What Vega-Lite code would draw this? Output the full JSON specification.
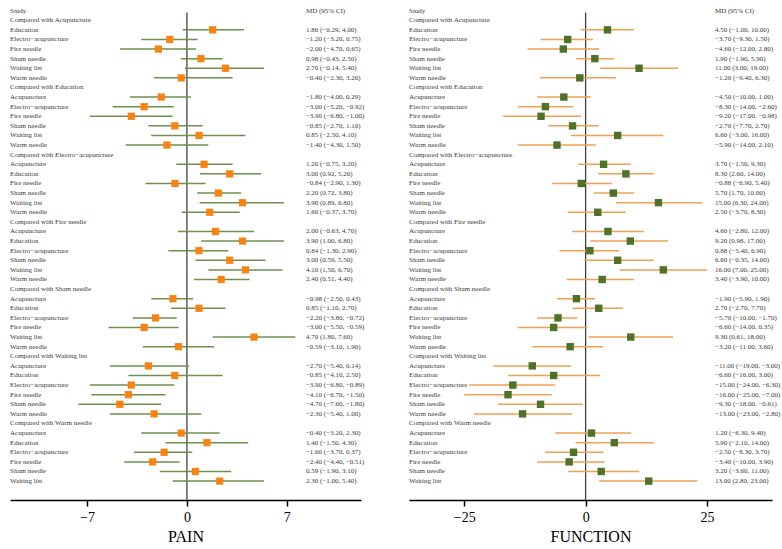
{
  "$schema": "https://vega.github.io/schema/vega-lite/v6.json",
  "padding": {"left": 10, "top": 5, "right": 0, "bottom": 0},
  "spacing": 48,
  "bounds": "flush",
  "config": {
    "view": {"stroke": null},
    "font": "Liberation Serif",
    "axis": {"grid": false, "domainColor": "#000", "domainWidth": 1.5, "tickColor": "#000", "tickWidth": 1.5, "tickSize": 6, "labelFont": "Liberation Serif", "labelFontSize": 14, "labelColor": "#000", "labelPadding": 4, "titleFont": "Liberation Serif", "titleFontSize": 16, "titleFontWeight": "normal", "titleColor": "#000", "titlePadding": 4}
  },
  "datasets": {
    "pain": [
      {"row": 0, "label": "Study", "ci": "MD (95% CI)", "md": null, "lo": null, "hi": null},
      {"row": 1, "label": "Compared with Acupuncture", "ci": "", "md": null, "lo": null, "hi": null},
      {"row": 2, "label": "Education", "ci": "1.80 (−0.29, 4.00)", "md": 1.8, "lo": -0.29, "hi": 4.0},
      {"row": 3, "label": "Electro−acupuncture", "ci": "−1.20 (−3.20, 0.75)", "md": -1.2, "lo": -3.2, "hi": 0.75},
      {"row": 4, "label": "Fire needle", "ci": "−2.00 (−4.70, 0.65)", "md": -2.0, "lo": -4.7, "hi": 0.65},
      {"row": 5, "label": "Sham needle", "ci": "0.98 (−0.43, 2.50)", "md": 0.98, "lo": -0.43, "hi": 2.5},
      {"row": 6, "label": "Waiting list", "ci": "2.70 (−0.14, 5.40)", "md": 2.7, "lo": -0.14, "hi": 5.4},
      {"row": 7, "label": "Warm needle", "ci": "−0.40 (−2.30, 3.20)", "md": -0.4, "lo": -2.3, "hi": 3.2},
      {"row": 8, "label": "Compared with Education", "ci": "", "md": null, "lo": null, "hi": null},
      {"row": 9, "label": "Acupuncture", "ci": "−1.80 (−4.00, 0.29)", "md": -1.8, "lo": -4.0, "hi": 0.29},
      {"row": 10, "label": "Electro−acupuncture", "ci": "−3.00 (−5.20, −0.92)", "md": -3.0, "lo": -5.2, "hi": -0.92},
      {"row": 11, "label": "Fire needle", "ci": "−3.90 (−6.80, −1.00)", "md": -3.9, "lo": -6.8, "hi": -1.0},
      {"row": 12, "label": "Sham needle", "ci": "−0.85 (−2.70, 1.10)", "md": -0.85, "lo": -2.7, "hi": 1.1},
      {"row": 13, "label": "Waiting list", "ci": "0.85 (−2.50, 4.10)", "md": 0.85, "lo": -2.5, "hi": 4.1},
      {"row": 14, "label": "Warm needle", "ci": "−1.40 (−4.30, 1.50)", "md": -1.4, "lo": -4.3, "hi": 1.5},
      {"row": 15, "label": "Compared with Electro−acupuncture", "ci": "", "md": null, "lo": null, "hi": null},
      {"row": 16, "label": "Acupuncture", "ci": "1.20 (−0.75, 3.20)", "md": 1.2, "lo": -0.75, "hi": 3.2},
      {"row": 17, "label": "Education", "ci": "3.00 (0.92, 5.20)", "md": 3.0, "lo": 0.92, "hi": 5.2},
      {"row": 18, "label": "Fire needle", "ci": "−0.84 (−2.90, 1.30)", "md": -0.84, "lo": -2.9, "hi": 1.3},
      {"row": 19, "label": "Sham needle", "ci": "2.20 (0.72, 3.80)", "md": 2.2, "lo": 0.72, "hi": 3.8},
      {"row": 20, "label": "Waiting list", "ci": "3.90 (0.89, 6.80)", "md": 3.9, "lo": 0.89, "hi": 6.8},
      {"row": 21, "label": "Warm needle", "ci": "1.60 (−0.37, 3.70)", "md": 1.6, "lo": -0.37, "hi": 3.7},
      {"row": 22, "label": "Compared with Fire needle", "ci": "", "md": null, "lo": null, "hi": null},
      {"row": 23, "label": "Acupuncture", "ci": "2.00 (−0.63, 4.70)", "md": 2.0, "lo": -0.63, "hi": 4.7},
      {"row": 24, "label": "Education", "ci": "3.90 (1.00, 6.80)", "md": 3.9, "lo": 1.0, "hi": 6.8},
      {"row": 25, "label": "Electro−acupuncture", "ci": "0.84 (−1.30, 2.90)", "md": 0.84, "lo": -1.3, "hi": 2.9},
      {"row": 26, "label": "Sham needle", "ci": "3.00 (0.59, 5.50)", "md": 3.0, "lo": 0.59, "hi": 5.5},
      {"row": 27, "label": "Waiting list", "ci": "4.10 (1.50, 6.70)", "md": 4.1, "lo": 1.5, "hi": 6.7},
      {"row": 28, "label": "Warm needle", "ci": "2.40 (0.51, 4.40)", "md": 2.4, "lo": 0.51, "hi": 4.4},
      {"row": 29, "label": "Compared with Sham needle", "ci": "", "md": null, "lo": null, "hi": null},
      {"row": 30, "label": "Acupuncture", "ci": "−0.98 (−2.50, 0.43)", "md": -0.98, "lo": -2.5, "hi": 0.43},
      {"row": 31, "label": "Education", "ci": "0.85 (−1.10, 2.70)", "md": 0.85, "lo": -1.1, "hi": 2.7},
      {"row": 32, "label": "Electro−acupuncture", "ci": "−2.20 (−3.80, −0.72)", "md": -2.2, "lo": -3.8, "hi": -0.72},
      {"row": 33, "label": "Fire needle", "ci": "−3.00 (−5.50, −0.59)", "md": -3.0, "lo": -5.5, "hi": -0.59},
      {"row": 34, "label": "Waiting list", "ci": "4.70 (1.80, 7.60)", "md": 4.7, "lo": 1.8, "hi": 7.6},
      {"row": 35, "label": "Warm needle", "ci": "−0.59 (−3.10, 1.90)", "md": -0.59, "lo": -3.1, "hi": 1.9},
      {"row": 36, "label": "Compared with Waiting list", "ci": "", "md": null, "lo": null, "hi": null},
      {"row": 37, "label": "Acupuncture", "ci": "−2.70 (−5.40, 0.14)", "md": -2.7, "lo": -5.4, "hi": 0.14},
      {"row": 38, "label": "Education", "ci": "−0.85 (−4.10, 2.50)", "md": -0.85, "lo": -4.1, "hi": 2.5},
      {"row": 39, "label": "Electro−acupuncture", "ci": "−3.90 (−6.80, −0.89)", "md": -3.9, "lo": -6.8, "hi": -0.89},
      {"row": 40, "label": "Fire needle", "ci": "−4.10 (−6.70, −1.50)", "md": -4.1, "lo": -6.7, "hi": -1.5},
      {"row": 41, "label": "Sham needle", "ci": "−4.70 (−7.60, −1.80)", "md": -4.7, "lo": -7.6, "hi": -1.8},
      {"row": 42, "label": "Warm needle", "ci": "−2.30 (−5.40, 1.00)", "md": -2.3, "lo": -5.4, "hi": 1.0},
      {"row": 43, "label": "Compared with Warm needle", "ci": "", "md": null, "lo": null, "hi": null},
      {"row": 44, "label": "Acupuncture", "ci": "−0.40 (−3.20, 2.30)", "md": -0.4, "lo": -3.2, "hi": 2.3},
      {"row": 45, "label": "Education", "ci": "1.40 (−1.50, 4.30)", "md": 1.4, "lo": -1.5, "hi": 4.3},
      {"row": 46, "label": "Electro−acupuncture", "ci": "−1.60 (−3.70, 0.37)", "md": -1.6, "lo": -3.7, "hi": 0.37},
      {"row": 47, "label": "Fire needle", "ci": "−2.40 (−4.40, −0.51)", "md": -2.4, "lo": -4.4, "hi": -0.51},
      {"row": 48, "label": "Sham needle", "ci": "0.59 (−1.90, 3.10)", "md": 0.59, "lo": -1.9, "hi": 3.1},
      {"row": 49, "label": "Waiting list", "ci": "2.30 (−1.00, 5.40)", "md": 2.3, "lo": -1.0, "hi": 5.4}
    ],
    "func": [
      {"row": 0, "label": "Study", "ci": "MD (95% CI)", "md": null, "lo": null, "hi": null},
      {"row": 1, "label": "Compared with Acupuncture", "ci": "", "md": null, "lo": null, "hi": null},
      {"row": 2, "label": "Education", "ci": "4.50 (−1.00, 10.00)", "md": 4.5, "lo": -1.0, "hi": 10.0},
      {"row": 3, "label": "Electro−acupuncture", "ci": "−3.70 (−9.30, 1.50)", "md": -3.7, "lo": -9.3, "hi": 1.5},
      {"row": 4, "label": "Fire needle", "ci": "−4.60 (−12.00, 2.80)", "md": -4.6, "lo": -12.0, "hi": 2.8},
      {"row": 5, "label": "Sham needle", "ci": "1.90 (−1.90, 5.90)", "md": 1.9, "lo": -1.9, "hi": 5.9},
      {"row": 6, "label": "Waiting list", "ci": "11.00 (3.00, 19.00)", "md": 11.0, "lo": 3.0, "hi": 19.0},
      {"row": 7, "label": "Warm needle", "ci": "−1.20 (−9.40, 6.30)", "md": -1.2, "lo": -9.4, "hi": 6.3},
      {"row": 8, "label": "Compared with Education", "ci": "", "md": null, "lo": null, "hi": null},
      {"row": 9, "label": "Acupuncture", "ci": "−4.50 (−10.00, 1.00)", "md": -4.5, "lo": -10.0, "hi": 1.0},
      {"row": 10, "label": "Electro−acupuncture", "ci": "−8.30 (−14.00, −2.60)", "md": -8.3, "lo": -14.0, "hi": -2.6},
      {"row": 11, "label": "Fire needle", "ci": "−9.20 (−17.00, −0.98)", "md": -9.2, "lo": -17.0, "hi": -0.98},
      {"row": 12, "label": "Sham needle", "ci": "−2.70 (−7.70, 2.70)", "md": -2.7, "lo": -7.7, "hi": 2.7},
      {"row": 13, "label": "Waiting list", "ci": "6.60 (−3.00, 16.00)", "md": 6.6, "lo": -3.0, "hi": 16.0},
      {"row": 14, "label": "Warm needle", "ci": "−5.90 (−14.00, 2.10)", "md": -5.9, "lo": -14.0, "hi": 2.1},
      {"row": 15, "label": "Compared with Electro−acupuncture", "ci": "", "md": null, "lo": null, "hi": null},
      {"row": 16, "label": "Acupuncture", "ci": "3.70 (−1.50, 9.30)", "md": 3.7, "lo": -1.5, "hi": 9.3},
      {"row": 17, "label": "Education", "ci": "8.30 (2.60, 14.00)", "md": 8.3, "lo": 2.6, "hi": 14.0},
      {"row": 18, "label": "Fire needle", "ci": "−0.88 (−6.90, 5.40)", "md": -0.88, "lo": -6.9, "hi": 5.4},
      {"row": 19, "label": "Sham needle", "ci": "5.70 (1.70, 10.00)", "md": 5.7, "lo": 1.7, "hi": 10.0},
      {"row": 20, "label": "Waiting list", "ci": "15.00 (6.30, 24.00)", "md": 15.0, "lo": 6.3, "hi": 24.0},
      {"row": 21, "label": "Warm needle", "ci": "2.50 (−3.70, 8.30)", "md": 2.5, "lo": -3.7, "hi": 8.3},
      {"row": 22, "label": "Compared with Fire needle", "ci": "", "md": null, "lo": null, "hi": null},
      {"row": 23, "label": "Acupuncture", "ci": "4.60 (−2.80, 12.00)", "md": 4.6, "lo": -2.8, "hi": 12.0},
      {"row": 24, "label": "Education", "ci": "9.20 (0.98, 17.00)", "md": 9.2, "lo": 0.98, "hi": 17.0},
      {"row": 25, "label": "Electro−acupuncture", "ci": "0.88 (−5.40, 6.90)", "md": 0.88, "lo": -5.4, "hi": 6.9},
      {"row": 26, "label": "Sham needle", "ci": "6.60 (−0.35, 14.00)", "md": 6.6, "lo": -0.35, "hi": 14.0},
      {"row": 27, "label": "Waiting list", "ci": "16.00 (7.00, 25.00)", "md": 16.0, "lo": 7.0, "hi": 25.0},
      {"row": 28, "label": "Warm needle", "ci": "3.40 (−3.90, 10.00)", "md": 3.4, "lo": -3.9, "hi": 10.0},
      {"row": 29, "label": "Compared with Sham needle", "ci": "", "md": null, "lo": null, "hi": null},
      {"row": 30, "label": "Acupuncture", "ci": "−1.90 (−5.90, 1.90)", "md": -1.9, "lo": -5.9, "hi": 1.9},
      {"row": 31, "label": "Education", "ci": "2.70 (−2.70, 7.70)", "md": 2.7, "lo": -2.7, "hi": 7.7},
      {"row": 32, "label": "Electro−acupuncture", "ci": "−5.70 (−10.00, −1.70)", "md": -5.7, "lo": -10.0, "hi": -1.7},
      {"row": 33, "label": "Fire needle", "ci": "−6.60 (−14.00, 0.35)", "md": -6.6, "lo": -14.0, "hi": 0.35},
      {"row": 34, "label": "Waiting list", "ci": "9.30 (0.61, 18.00)", "md": 9.3, "lo": 0.61, "hi": 18.0},
      {"row": 35, "label": "Warm needle", "ci": "−3.20 (−11.00, 3.60)", "md": -3.2, "lo": -11.0, "hi": 3.6},
      {"row": 36, "label": "Compared with Waiting list", "ci": "", "md": null, "lo": null, "hi": null},
      {"row": 37, "label": "Acupuncture", "ci": "−11.00 (−19.00, −3.00)", "md": -11.0, "lo": -19.0, "hi": -3.0},
      {"row": 38, "label": "Education", "ci": "−6.60 (−16.00, 3.00)", "md": -6.6, "lo": -16.0, "hi": 3.0},
      {"row": 39, "label": "Electro−acupuncture", "ci": "−15.00 (−24.00, −6.30)", "md": -15.0, "lo": -24.0, "hi": -6.3},
      {"row": 40, "label": "Fire needle", "ci": "−16.00 (−25.00, −7.00)", "md": -16.0, "lo": -25.0, "hi": -7.0},
      {"row": 41, "label": "Sham needle", "ci": "−9.30 (−18.00, −0.61)", "md": -9.3, "lo": -18.0, "hi": -0.61},
      {"row": 42, "label": "Warm needle", "ci": "−13.00 (−23.00, −2.80)", "md": -13.0, "lo": -23.0, "hi": -2.8},
      {"row": 43, "label": "Compared with Warm needle", "ci": "", "md": null, "lo": null, "hi": null},
      {"row": 44, "label": "Acupuncture", "ci": "1.20 (−6.30, 9.40)", "md": 1.2, "lo": -6.3, "hi": 9.4},
      {"row": 45, "label": "Education", "ci": "5.90 (−2.10, 14.00)", "md": 5.9, "lo": -2.1, "hi": 14.0},
      {"row": 46, "label": "Electro−acupuncture", "ci": "−2.50 (−8.30, 3.70)", "md": -2.5, "lo": -8.3, "hi": 3.7},
      {"row": 47, "label": "Fire needle", "ci": "−3.40 (−10.00, 3.90)", "md": -3.4, "lo": -10.0, "hi": 3.9},
      {"row": 48, "label": "Sham needle", "ci": "3.20 (−3.60, 11.00)", "md": 3.2, "lo": -3.6, "hi": 11.0},
      {"row": 49, "label": "Waiting list", "ci": "13.00 (2.80, 23.00)", "md": 13.0, "lo": 2.8, "hi": 23.0}
    ]
  },
  "hconcat": [
    {
      "width": 351,
      "height": 495,
      "data": {"name": "pain"},
      "layer": [
        {
          "data": {"values": [{"zero": 0, "top": 0.2, "bottom": 50.97}]},
          "mark": {"type": "rule", "color": "#333", "strokeWidth": 1.2},
          "encoding": {
            "x": {"field": "zero", "type": "quantitative", "title": "PAIN", "scale": {"domain": [-12.4, 12.2], "nice": false, "zero": false}, "axis": {"values": [-7, 0, 7], "title": "PAIN"}},
            "y": {"field": "top", "type": "quantitative", "scale": {"domain": [-0.59, 50.97], "nice": false, "zero": false, "reverse": true}, "axis": null},
            "y2": {"field": "bottom"}
          }
        },
        {
          "transform": [{"filter": "datum.md != null"}],
          "mark": {"type": "rule", "color": "#6F8F4F", "strokeWidth": 1.5},
          "encoding": {
            "x": {"field": "lo", "type": "quantitative", "title": "PAIN"},
            "x2": {"field": "hi"},
            "y": {"field": "row", "type": "quantitative", "axis": null}
          }
        },
        {
          "transform": [{"filter": "datum.md != null"}],
          "mark": {"type": "point", "shape": "square", "filled": true, "color": "#FA820E", "opacity": 1, "size": 52},
          "encoding": {
            "x": {"field": "md", "type": "quantitative", "title": "PAIN"},
            "y": {"field": "row", "type": "quantitative", "axis": null}
          }
        },
        {
          "mark": {"type": "text", "align": "left", "baseline": "middle", "fontSize": 7, "color": "#3a3a3a", "font": "Liberation Serif"},
          "encoding": {
            "x": {"datum": -12.4, "type": "quantitative", "title": "PAIN"},
            "y": {"field": "row", "type": "quantitative", "axis": null},
            "text": {"field": "label"}
          }
        },
        {
          "mark": {"type": "text", "align": "left", "baseline": "middle", "fontSize": 7, "color": "#3a3a3a", "font": "Liberation Serif"},
          "encoding": {
            "x": {"datum": 8.34, "type": "quantitative", "title": "PAIN"},
            "y": {"field": "row", "type": "quantitative", "axis": null},
            "text": {"field": "ci"}
          }
        }
      ]
    },
    {
      "width": 363,
      "height": 495,
      "data": {"name": "func"},
      "layer": [
        {
          "data": {"values": [{"zero": 0, "top": 0.2, "bottom": 50.97}]},
          "mark": {"type": "rule", "color": "#333", "strokeWidth": 1.2},
          "encoding": {
            "x": {"field": "zero", "type": "quantitative", "title": "FUNCTION", "scale": {"domain": [-36.4, 38.4], "nice": false, "zero": false}, "axis": {"values": [-25, 0, 25], "title": "FUNCTION"}},
            "y": {"field": "top", "type": "quantitative", "scale": {"domain": [-0.59, 50.97], "nice": false, "zero": false, "reverse": true}, "axis": null},
            "y2": {"field": "bottom"}
          }
        },
        {
          "transform": [{"filter": "datum.md != null"}],
          "mark": {"type": "rule", "color": "#F0A052", "strokeWidth": 1.5},
          "encoding": {
            "x": {"field": "lo", "type": "quantitative", "title": "FUNCTION"},
            "x2": {"field": "hi"},
            "y": {"field": "row", "type": "quantitative", "axis": null}
          }
        },
        {
          "transform": [{"filter": "datum.md != null"}],
          "mark": {"type": "point", "shape": "square", "filled": true, "color": "#4E7328", "opacity": 1, "size": 55},
          "encoding": {
            "x": {"field": "md", "type": "quantitative", "title": "FUNCTION"},
            "y": {"field": "row", "type": "quantitative", "axis": null}
          }
        },
        {
          "mark": {"type": "text", "align": "left", "baseline": "middle", "fontSize": 7, "color": "#3a3a3a", "font": "Liberation Serif"},
          "encoding": {
            "x": {"datum": -36.4, "type": "quantitative", "title": "FUNCTION"},
            "y": {"field": "row", "type": "quantitative", "axis": null},
            "text": {"field": "label"}
          }
        },
        {
          "mark": {"type": "text", "align": "left", "baseline": "middle", "fontSize": 7, "color": "#3a3a3a", "font": "Liberation Serif"},
          "encoding": {
            "x": {"datum": 26.64, "type": "quantitative", "title": "FUNCTION"},
            "y": {"field": "row", "type": "quantitative", "axis": null},
            "text": {"field": "ci"}
          }
        }
      ]
    }
  ]
}
